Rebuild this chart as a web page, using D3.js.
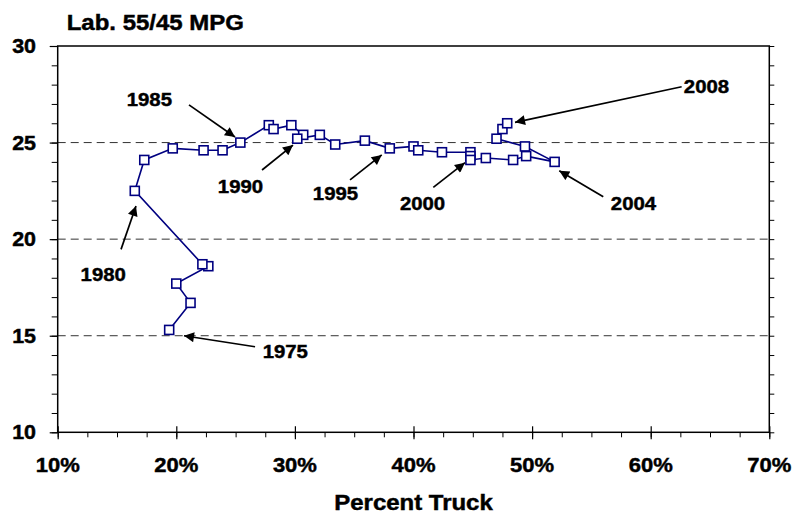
<!DOCTYPE html>
<html><head><meta charset="utf-8">
<script src="https://cdn.jsdelivr.net/npm/d3@7"></script>
<style>body{margin:0;background:#fff}svg{display:block}</style>
</head><body><svg id="c" width="794" height="515"></svg>
<script>
const years = [1975,1976,1977,1978,1979,1980,1981,1982,1983,1984,1985,1986,1987,1988,1989,1990,1991,1992,1993,1994,1995,1996,1997,1998,1999,2000,2001,2002,2003,2004,2005,2006,2007,2008];
const truckShare = [19.4,21.2,20.0,22.7,22.2,16.5,17.3,19.7,22.3,23.9,25.4,27.8,28.2,29.7,30.7,30.2,32.1,33.4,35.9,38.0,40.0,40.4,42.4,44.8,44.8,44.8,46.1,48.4,49.5,51.9,49.4,47.0,47.5,47.9];
const labMpg = [15.3,16.7,17.7,18.6,18.7,22.5,24.1,24.7,24.6,24.6,25.0,25.9,25.7,25.9,25.4,25.2,25.4,24.9,25.1,24.7,24.8,24.6,24.5,24.5,24.3,24.1,24.2,24.1,24.3,24.0,24.8,25.2,25.7,26.0];
const xTicks = [10,20,30,40,50,60,70];
const yTicks = [10,15,20,25,30];
const gridValues = [15,20,25];
// annotation labels, positions in data units (percent truck, mpg)
const annoLabels = ["1975","1980","1985","1990","1995","2000","2004","2008"];
const annoText = [[29.19,13.85],[13.84,17.83],[17.73,26.89],[25.41,22.39],[33.42,22.03],[40.76,21.51],[58.55,21.51],[64.7,27.57]];
const annoTail = [[26.64,14.43],[15.34,19.47],[21.07,26.95],[27.23,23.58],[34.65,23.07],[41.67,22.68],[56.0,22.2],[62.61,27.89]];
const annoTip = [[20.65,15.0],[16.6,21.72],[24.95,25.29],[29.84,24.87],[37.32,24.36],[44.34,23.96],[52.29,23.54],[48.56,26.05]];

const svg = d3.select("#c");
const L = 57.7, R = 769.3, T = 46, B = 432.3;
const x = d3.scaleLinear().domain([10,70]).range([L,R]);
const y = d3.scaleLinear().domain([10,30]).range([B,T]);
const FONT = "'Liberation Sans', Arial, Helvetica, sans-serif";
const SX = 1.1;

function txt(g, tx, ty, s, size, anchor){
  return g.append("text").attr("transform",`translate(${tx},${ty}) scale(${SX},1)`)
    .attr("text-anchor",anchor).attr("font-family",FONT).attr("font-weight","bold")
    .attr("font-size",size).attr("fill","#000")
    .attr("stroke","#000").attr("stroke-width",0.45).text(s);
}

// gridlines
svg.append("g").selectAll("line").data(gridValues).join("line")
  .attr("x1",L).attr("x2",R).attr("y1",d=>y(d)).attr("y2",d=>y(d))
  .attr("stroke","#333").attr("stroke-width",1).attr("stroke-dasharray","8,5");

// axes via d3
const yMinor = d3.range(10,31,1);
svg.append("g").attr("transform",`translate(${L},0)`)
  .call(d3.axisLeft(y).tickValues(yMinor).tickSize(6).tickFormat(""))
  .call(g=>g.select(".domain").remove())
  .call(g=>g.selectAll("line").attr("stroke","#000").attr("stroke-width",1));
svg.append("g").attr("transform",`translate(${L},0)`)
  .call(d3.axisLeft(y).tickValues(yTicks).tickSize(8).tickFormat(""))
  .call(g=>g.select(".domain").remove())
  .call(g=>g.selectAll("line").attr("stroke","#000").attr("stroke-width",1.2));
svg.append("g").attr("transform",`translate(${R},0)`)
  .call(d3.axisRight(y).tickValues(yMinor).tickSize(5).tickFormat(""))
  .call(g=>g.select(".domain").remove())
  .call(g=>g.selectAll("line").attr("stroke","#000").attr("stroke-width",1));
const xMinor = d3.range(10,70.1,2.5);
svg.append("g").attr("transform",`translate(0,${B})`)
  .call(d3.axisBottom(x).tickValues(xMinor).tickSize(5).tickFormat(""))
  .call(g=>g.select(".domain").remove())
  .call(g=>g.selectAll("line").attr("stroke","#000").attr("stroke-width",1));
svg.append("g").attr("transform",`translate(0,${B})`)
  .call(d3.axisBottom(x).tickValues(xTicks).tickSize(7).tickFormat(""))
  .call(g=>g.select(".domain").remove())
  .call(g=>g.selectAll("line").attr("y1",-6).attr("stroke","#000").attr("stroke-width",1.2));

// frame
svg.append("rect").attr("x",L).attr("y",T).attr("width",R-L).attr("height",B-T)
  .attr("fill","none").attr("stroke","#000").attr("stroke-width",1.5);

// tick labels
const tl = svg.append("g");
yTicks.forEach(v=>txt(tl, 36, y(v)+7, String(v), 19.5, "end"));
xTicks.forEach(v=>txt(tl, x(v), 472, v+"%", 20, "middle"));
txt(svg, 66.7, 29.5, "Lab. 55/45 MPG", 21.8, "start");
txt(svg, (L+R)/2, 510, "Percent Truck", 21.8, "middle");

// series
const pts = years.map((yr,i)=>({yr, p:truckShare[i], m:labMpg[i]}));
svg.append("path").datum(pts)
  .attr("d", d3.line().x(d=>x(d.p)).y(d=>y(d.m)))
  .attr("fill","none").attr("stroke","#000080").attr("stroke-width",1.6);
const S = 9;
svg.append("g").selectAll("rect").data(pts).join("rect")
  .attr("x",d=>x(d.p)-S/2).attr("y",d=>y(d.m)-S/2).attr("width",S).attr("height",S)
  .attr("fill","#fff").attr("stroke","#000080").attr("stroke-width",1.6);

// annotations
svg.append("defs").append("marker").attr("id","ah").attr("viewBox","0 0 10 10")
  .attr("refX",10).attr("refY",5).attr("markerWidth",12).attr("markerHeight",10)
  .attr("markerUnits","userSpaceOnUse").attr("orient","auto")
  .append("path").attr("d","M0,0L10,5L0,10Z").attr("fill","#000");
const ag = svg.append("g");
annoLabels.forEach((lab,i)=>{
  ag.append("line").attr("x1",x(annoTail[i][0])).attr("y1",y(annoTail[i][1]))
    .attr("x2",x(annoTip[i][0])).attr("y2",y(annoTip[i][1]))
    .attr("stroke","#000").attr("stroke-width",1.7).attr("marker-end","url(#ah)");
  txt(ag, x(annoText[i][0]), y(annoText[i][1]), lab, 18.5, "middle");
});
</script></body></html>
